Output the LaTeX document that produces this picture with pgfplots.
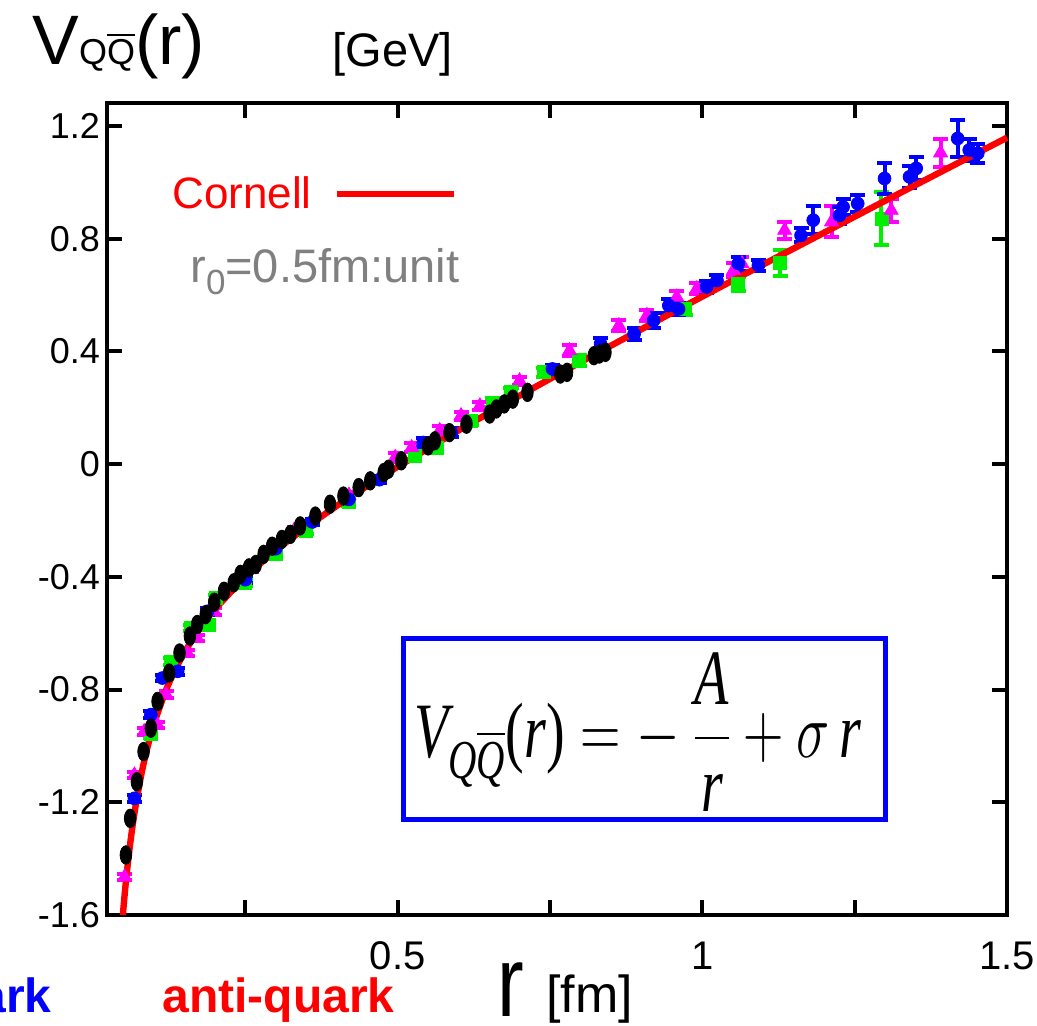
\RequirePackage{fix-cm}
\documentclass[border=0pt]{standalone}
\usepackage{fontspec}
\setmainfont{Liberation Sans}
\newfontfamily\tms{Liberation Serif}
\usepackage{amsmath}
\usepackage{pgfplots}
\usepackage{pgfplotstable}
\pgfplotsset{compat=1.18}
\definecolor{mymag}{RGB}{255,0,255}
\definecolor{mygreen}{RGB}{0,240,0}
\definecolor{mygray}{RGB}{128,128,128}
\definecolor{myblue}{RGB}{0,0,255}

\pgfplotstableread{
x y
0.049 -1.600
0.052 -1.527
0.055 -1.461
0.060 -1.365
0.065 -1.283
0.070 -1.212
0.080 -1.094
0.090 -1.000
0.100 -0.923
0.120 -0.801
0.140 -0.708
0.160 -0.633
0.180 -0.570
0.200 -0.515
0.250 -0.401
0.300 -0.306
0.350 -0.224
0.400 -0.148
0.450 -0.077
0.500 -0.009
0.600 0.120
0.700 0.243
0.800 0.362
0.900 0.479
1.000 0.595
1.100 0.709
1.200 0.822
1.300 0.935
1.400 1.047
1.500 1.159
}\cornell

\pgfplotstableread{
x y e
0.068 -1.186 0.012
0.095 -0.889 0.012
0.114 -0.759 0.012
0.139 -0.735 0.012
0.188 -0.522 0.012
0.250 -0.410 0.012
0.300 -0.300 0.012
0.360 -0.205 0.012
0.420 -0.125 0.012
0.470 -0.055 0.012
0.542 0.077 0.015
0.588 0.112 0.015
0.754 0.338 0.015
0.833 0.427 0.020
0.888 0.462 0.020
0.920 0.510 0.025
0.945 0.563 0.025
0.961 0.551 0.020
1.007 0.629 0.020
1.024 0.652 0.020
1.059 0.712 0.025
1.092 0.706 0.020
1.162 0.812 0.025
1.182 0.866 0.050
1.225 0.883 0.030
1.231 0.913 0.030
1.255 0.925 0.030
1.299 1.014 0.056
1.340 1.020 0.040
1.351 1.050 0.040
1.419 1.156 0.065
1.438 1.115 0.040
1.452 1.103 0.035
}\blued

\pgfplotstableread{
x y e
0.052 -1.465 0.012
0.068 -1.103 0.012
0.084 -0.949 0.012
0.106 -0.926 0.012
0.120 -0.818 0.012
0.155 -0.670 0.012
0.171 -0.617 0.012
0.199 -0.522 0.012
0.260 -0.370 0.012
0.330 -0.235 0.012
0.420 -0.110 0.012
0.496 0.024 0.015
0.523 0.059 0.015
0.569 0.119 0.015
0.604 0.172 0.015
0.635 0.207 0.015
0.700 0.296 0.015
0.782 0.403 0.020
0.863 0.492 0.020
0.909 0.528 0.020
0.958 0.593 0.020
0.991 0.623 0.020
1.051 0.688 0.025
1.065 0.712 0.025
1.135 0.830 0.030
1.212 0.860 0.055
1.310 0.901 0.040
1.391 1.105 0.050
}\magd

\pgfplotstableread{
x y e
0.095 -0.959 0.012
0.128 -0.700 0.012
0.160 -0.581 0.012
0.190 -0.569 0.012
0.201 -0.475 0.012
0.250 -0.420 0.012
0.300 -0.320 0.012
0.350 -0.235 0.012
0.420 -0.135 0.012
0.528 0.030 0.015
0.564 0.059 0.015
0.621 0.154 0.015
0.656 0.219 0.015
0.686 0.255 0.015
0.740 0.326 0.015
0.798 0.367 0.020
0.972 0.551 0.020
1.059 0.640 0.025
1.128 0.715 0.047
1.294 0.872 0.094
}\greend

\pgfplotstableread{
x y
0.054 -1.387
0.061 -1.257
0.072 -1.127
0.083 -1.020
0.095 -0.937
0.106 -0.842
0.125 -0.741
0.142 -0.670
0.159 -0.610
0.171 -0.569
0.185 -0.534
0.199 -0.490
0.215 -0.451
0.231 -0.421
0.242 -0.391
0.256 -0.368
0.267 -0.356
0.280 -0.320
0.294 -0.291
0.310 -0.267
0.324 -0.249
0.340 -0.219
0.365 -0.184
0.389 -0.142
0.411 -0.113
0.436 -0.083
0.455 -0.059
0.477 -0.030
0.485 -0.018
0.506 0.012
0.550 0.065
0.561 0.083
0.585 0.112
0.613 0.142
0.651 0.178
0.662 0.196
0.675 0.214
0.689 0.231
0.713 0.255
0.767 0.320
0.778 0.326
0.822 0.385
0.831 0.391
0.841 0.397
}\blackd

\begin{document}
\begin{tikzpicture}
\path[use as bounding box] (-53.5pt,-55.5pt) rectangle (465pt,457.5pt);
\clip (-53.5pt,-55.5pt) rectangle (465pt,457.5pt);
\begin{axis}[
  at={(0pt,0pt)}, anchor=south west,
  scale only axis, width=450pt, height=406pt,
  xmin=0.023, xmax=1.5, ymin=-1.6, ymax=1.282,
  clip=false,
  axis line style={line width=2pt},
  tick style={line width=2pt, black},
  tick align=inside, major tick length=7.5pt,
  xtick={0.25,0.5,0.75,1,1.25,1.5},
  xticklabels={,0.5,,1,,1.5},
  ytick={-1.6,-1.2,-0.8,-0.4,0,0.4,0.8,1.2},
  yticklabels={-1.6,-1.2,-0.8,-0.4,0,0.4,0.8,1.2},
  x tick label style={font=\fontsize{20}{20}\selectfont, yshift=-10pt},
  y tick label style={font=\fontsize{18}{18}\selectfont},
  legend plot pos=right,
  legend image code/.code={\path (0pt,0pt); \draw[#1] (11pt,0pt) -- (69.5pt,0pt);},
  legend style={at={(0.0722,0.888)}, anchor=west, draw=none, fill=none,
    inner sep=0pt, nodes={inner sep=0pt}, font=\fontsize{22}{22}\selectfont},
  errb/.style={only marks, forget plot, color=#1,
    error bars/y dir=both, error bars/y explicit,
    error bars/error bar style={line width=2pt, #1},
    error bars/error mark options={rotate=90, line width=2pt, mark size=3.75pt, #1}},
]
\addplot[errb=mygreen, mark=square*, mark size=3.25pt] table[x=x, y=y, y error=e]{\greend};
\addplot[errb=mymag, mark=triangle*, mark size=4pt] table[x=x, y=y, y error=e]{\magd};
\addplot[errb=myblue, mark=*, mark size=3.2pt] table[x=x, y=y, y error=e]{\blued};
\addplot[red, line width=3.2pt, smooth, no markers] table[x=x, y=y]{\cornell};
\addlegendentry{\textcolor{red}{Cornell}}
\addplot[only marks, forget plot, black, mark=*, mark size=2.9pt, mark options={yscale=1.6}] table[x=x, y=y]{\blackd};
\end{axis}
% title
\node[anchor=base west, inner sep=0pt] at (-37.5pt,425pt)
  {\fontsize{35}{35}\selectfont V{\fontsize{18}{18}\selectfont Q$\overline{\hbox{Q}}$}(r)};
\node[anchor=base west, inner sep=0pt] at (112.5pt,424pt)
  {\fontsize{23.5}{23.5}\selectfont [GeV]};
% r0 note
\node[anchor=base west, inner sep=0pt, text=mygray] at (41.5pt,316pt)
  {\fontsize{23.5}{23.5}\selectfont r\raisebox{-6pt}{\fontsize{17.5}{17.5}\selectfont 0}=0.5fm:unit};
% formula box
\draw[myblue, line width=2.5pt] (148pt,47.9pt) rectangle (389.25pt,138.25pt);
\node at (265.25pt,91.5pt) {\scalebox{1}[1.4]{\fontsize{28}{34}\selectfont
  $\text{\tms\itshape V}_{\text{\tms\itshape Q}\overline{\text{\tms\itshape Q}}}\text{\tms(\itshape r\upshape)}=-\mkern4mu\dfrac{\text{\tms\itshape A}}{\text{\tms\itshape r}}+\sigma\,\text{\tms\itshape r}$}};
% bottom texts
\node[anchor=base east, inner sep=0pt, text=myblue] at (-27.5pt,-48.5pt)
  {\fontsize{24}{24}\selectfont\bfseries quark};
\node[anchor=base west, inner sep=0pt, text=red] at (27.5pt,-48.5pt)
  {\fontsize{24}{24}\selectfont\bfseries anti-quark};
\node[anchor=base west, inner sep=0pt] at (195pt,-50.5pt)
  {\scalebox{1}[1.25]{\fontsize{40}{40}\selectfont r}};
\node[anchor=base west, inner sep=0pt] at (219.5pt,-48.5pt)
  {\fontsize{26}{26}\selectfont [fm]};
\end{tikzpicture}
\end{document}
